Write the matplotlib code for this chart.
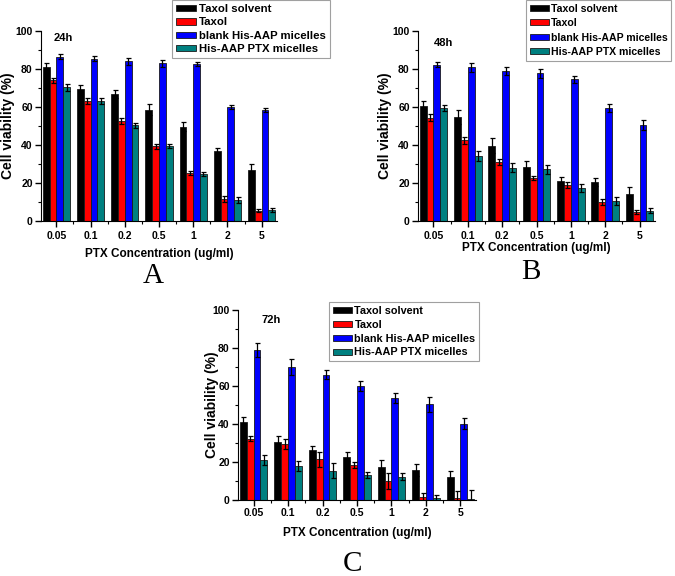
import numpy as np
import matplotlib
matplotlib.use("Agg")
import matplotlib.pyplot as plt
from matplotlib.ticker import MultipleLocator, FixedLocator

plt.rcParams["font.family"] = ["Liberation Sans", "DejaVu Sans"]
plt.rcParams["font.weight"] = "bold"

concentrations = ["0.05", "0.1", "0.2", "0.5", "1", "2", "5"]
series_names = ["Taxol solvent", "Taxol", "blank His-AAP micelles", "His-AAP PTX micelles"]
colors = ["#000000", "#ff0000", "#0000ff", "#008080"]

# 24h
solvent_24 = [81.2, 69.3, 66.7, 58.6, 49.7, 36.7, 27.0]
solvent_24_err = [2.0, 2.5, 2.0, 3.0, 2.5, 1.8, 2.8]
taxol_24 = [74.0, 63.0, 52.5, 39.3, 25.3, 11.4, 5.4]
taxol_24_err = [1.5, 1.5, 1.5, 1.2, 1.0, 1.5, 0.8]
blank_24 = [86.5, 85.5, 84.0, 83.0, 82.6, 60.0, 58.4]
blank_24_err = [1.2, 1.2, 1.8, 1.8, 1.2, 1.2, 1.0]
ptx_24 = [70.3, 63.1, 50.3, 39.4, 24.8, 11.0, 5.6]
ptx_24_err = [2.0, 1.5, 1.2, 1.2, 1.0, 1.5, 1.0]

# 48h
solvent_48 = [60.6, 54.7, 39.6, 28.5, 21.0, 20.5, 14.4]
solvent_48_err = [2.8, 3.5, 4.0, 3.0, 2.2, 2.2, 3.5]
taxol_48 = [54.4, 42.4, 30.9, 22.7, 18.8, 9.9, 4.8]
taxol_48_err = [1.8, 1.8, 1.5, 1.0, 1.5, 1.5, 1.2]
blank_48 = [82.3, 80.8, 79.1, 77.8, 74.5, 59.5, 50.4]
blank_48_err = [1.2, 2.5, 2.0, 2.3, 2.0, 2.0, 2.5]
ptx_48 = [59.6, 34.1, 28.1, 27.3, 17.4, 10.5, 5.4]
ptx_48_err = [1.5, 2.5, 2.3, 2.3, 2.2, 2.2, 1.2]

# 72h
solvent_72 = [41.2, 30.5, 26.3, 22.8, 17.4, 15.8, 12.1]
solvent_72_err = [2.3, 3.3, 2.2, 2.3, 3.5, 3.0, 3.2]
taxol_72 = [32.3, 29.6, 21.4, 18.4, 10.0, 1.6, 0.9]
taxol_72_err = [1.5, 2.5, 3.8, 1.5, 4.0, 2.0, 4.0]
blank_72 = [79.0, 70.0, 66.0, 60.0, 53.7, 50.4, 40.2]
blank_72_err = [3.5, 4.3, 2.5, 2.5, 2.5, 4.0, 3.0]
ptx_72 = [21.0, 18.0, 15.4, 13.0, 12.3, 1.2, 0.7]
ptx_72_err = [2.5, 2.5, 4.0, 1.5, 2.0, 1.5, 4.5]

TICK_FS = 7.5
XLAB_FS = 8.5
TIME_FS = 8.0
YLAB_FS = 10.0
BAR_W = 0.2


def draw_panel(ax, values, errors, time_label, time_xy, tick_pad, xlabel_y, ylabel_x,
               legend_anchor, legend_fs, legend_sp):
    x = np.arange(len(concentrations))
    handles = []
    for k, (vals, errs) in enumerate(zip(values, errors)):
        h = ax.bar(x + (k - 1.5) * BAR_W, vals, BAR_W, color=colors[k],
                   edgecolor="#1a1a1a", linewidth=0.6, label=series_names[k],
                   yerr=errs, capsize=1.8, error_kw=dict(ecolor="black", elinewidth=0.9, capthick=0.9))
        handles.append(h)
    ax.set_xlim(-0.45, len(concentrations) - 0.55)
    ax.set_ylim(0, 100)
    ax.spines["top"].set_visible(False)
    ax.spines["right"].set_visible(False)
    ax.set_xticks(x)
    ax.set_xticklabels(concentrations, fontsize=TICK_FS, fontweight="bold")
    ax.xaxis.set_minor_locator(FixedLocator(x[:-1] + 0.5))
    ax.yaxis.set_major_locator(MultipleLocator(20))
    ax.yaxis.set_minor_locator(MultipleLocator(10))
    ax.tick_params(axis="both", which="major", direction="out", length=4, width=1)
    ax.tick_params(axis="both", which="minor", direction="out", length=2, width=0.8)
    ax.tick_params(axis="x", which="major", pad=tick_pad)
    ax.tick_params(axis="y", which="major", pad=2, labelsize=TICK_FS)
    for lab in ax.get_yticklabels():
        lab.set_fontweight("bold")
    ax.text(time_xy[0], time_xy[1], time_label, transform=ax.transAxes,
            fontsize=TIME_FS, fontweight="bold", ha="left", va="center")
    ax.text(0.5, xlabel_y, "PTX Concentration (ug/ml)", transform=ax.transAxes,
            fontsize=XLAB_FS, fontweight="bold", ha="center", va="center")
    ax.text(ylabel_x, 0.5, "Cell viability (%)", transform=ax.transAxes, rotation=90,
            fontsize=YLAB_FS, fontweight="bold", ha="center", va="center")
    leg = ax.figure.legend(handles=handles, loc="upper left", bbox_to_anchor=legend_anchor,
                           bbox_transform=ax.figure.transFigure,
                           prop=dict(weight="bold", size=legend_fs), frameon=True, fancybox=False,
                           edgecolor="#888888", borderaxespad=0, borderpad=0.35,
                           labelspacing=legend_sp, handlelength=1.8, handleheight=0.5,
                           handletextpad=0.2)
    leg.get_frame().set_linewidth(0.8)
    return leg


fig = plt.figure(figsize=(6.75, 5.76), dpi=100)
W, H = 675.0, 576.0


def add_axes(left, right, top, bottom):
    return fig.add_axes([left / W, 1 - bottom / H, (right - left) / W, (bottom - top) / H])


ax_a = add_axes(41, 277, 31, 221)
ax_b = add_axes(418, 655, 31, 221)
ax_c = add_axes(238, 476, 310, 500)

draw_panel(ax_a,
           [solvent_24, taxol_24, blank_24, ptx_24],
           [solvent_24_err, taxol_24_err, blank_24_err, ptx_24_err],
           "24h", (0.055, 0.965), 3, -0.174, -0.14, (172 / W, 1.0), 8.2, 0.3)
draw_panel(ax_b,
           [solvent_48, taxol_48, blank_48, ptx_48],
           [solvent_48_err, taxol_48_err, blank_48_err, ptx_48_err],
           "48h", (0.065, 0.935), 3, -0.142, -0.139, (526 / W, 1.0), 7.6, 0.42)
draw_panel(ax_c,
           [solvent_72, taxol_72, blank_72, ptx_72],
           [solvent_72_err, taxol_72_err, blank_72_err, ptx_72_err],
           "72h", (0.10, 0.945), 1.5, -0.174, -0.11, (329 / W, 1 - 302 / H), 7.8, 0.36)

for letter, (px, py) in [("A", (153, 276)), ("B", (531, 272)), ("C", (353, 564))]:
    fig.text(px / W, 1 - py / H, letter, fontsize=21, family="Liberation Serif",
             fontweight="normal", ha="center", va="center")

fig.savefig("out.png", dpi=100)
